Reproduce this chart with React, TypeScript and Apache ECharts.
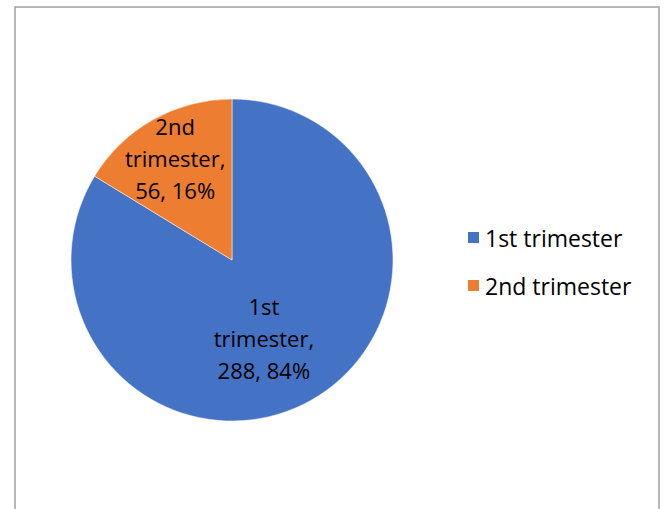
import React, { useEffect, useRef } from "react";
import * as echarts from "echarts";

const categories = ["1st trimester", "2nd trimester"];
const values = [288, 56];
const percents = ["84%", "16%"];
const colors = ["#4472C4", "#ED7D31"];
const labelOffsets = [
  [-9, 5],
  [-16, -29],
];

export default function App() {
  const ref = useRef<HTMLDivElement>(null);
  useEffect(() => {
    document.body.style.margin = "0";
    const chart = echarts.init(ref.current!, undefined, { renderer: "svg" });
    const font = "'Open Sans', sans-serif";
    chart.setOption({
      animation: false,
      backgroundColor: "#ffffff",
      graphic: [
        {
          type: "rect",
          shape: { x: 15, y: 7, width: 644, height: 520 },
          style: { fill: "none", stroke: "#a0a0a0", lineWidth: 1.5 },
          silent: true,
        },
      ],
      legend: {
        orient: "vertical",
        left: 461,
        top: 221,
        itemWidth: 13,
        itemHeight: 13,
        itemGap: 25,
        icon: "rect",
        textStyle: { fontFamily: font, fontSize: 23, color: "#000" },
        data: categories,
      },
      series: [
        {
          type: "pie",
          center: [232, 260],
          radius: [0, 161],
          startAngle: 90,
          clockwise: true,
          itemStyle: { borderColor: "#ffffff", borderWidth: 0.5 },
          label: {
            show: true,
            position: "inside",
            fontFamily: font,
            fontSize: 22,
            lineHeight: 32,
            color: "#000",
            formatter: (p: any) => {
              const name = p.name as string;
              const parts = name.split(" ");
              return `${parts[0]}\n${parts[1]},\n${p.value}, ${percents[p.dataIndex]}`;
            },
          },
          labelLayout: (p: any) => ({
            dx: labelOffsets[p.dataIndex][0],
            dy: labelOffsets[p.dataIndex][1],
          }),
          data: categories.map((c, i) => ({
            name: c,
            value: values[i],
            itemStyle: { color: colors[i] },
          })),
        },
      ],
    });
    return () => chart.dispose();
  }, []);
  return <div ref={ref} style={{ width: 665, height: 509 }} />;
}
